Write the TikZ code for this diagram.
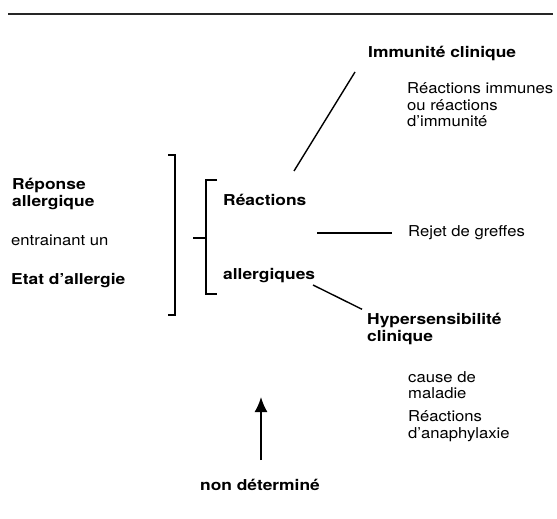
\documentclass[tikz,border=0pt]{standalone}
\usepackage{fontspec}
\setmainfont[FakeStretch=1.11, BoldFeatures={FakeStretch=1.16}]{TeX Gyre Heros}
\usepackage{tikz}
\usetikzlibrary{arrows.meta, positioning}
\tikzset{
  head/.style={font=\fontsize{15}{16.5}\selectfont\bfseries, align=left, inner sep=0pt, anchor=west},
  note/.style={font=\fontsize{15}{16.5}\selectfont, align=left, inner sep=0pt, anchor=west},
  link/.style={line width=1.4pt},
  bracket/.style={line width=1.4pt},
  rule/.style={line width=2pt, black!85},
  uparrow/.style={line width=1.8pt, -{Latex[length=15pt, width=13pt]}}
}

\begin{document}
\begin{tikzpicture}[x=1pt, y=-1pt]
\useasboundingbox (0,0) rectangle (557,519);
\draw[rule] (8,14) -- (553,14);

\node[head] (resp) at (12,194) {Réponse\\allergique};
\node[note] (entr) at (11,240) {entrainant un};
\node[head] (etat) at (11,281) {Etat d'allergie};

\node[head] (reac) at (223,200) {Réactions};
\node[head] (allg) at (223,276) {allergiques};

\node[head] (immclin) at (368,53) {Immunité clinique};
\node[note] (immreac) at (407,105) {Réactions immunes\\ou réactions\\d'immunité};
\node[note] (rejet) at (408,233) {Rejet de greffes};
\node[head] (hyper) at (367,329) {Hypersensibilité\\clinique};
\node[note] (cause) at (408,385) {cause de\\maladie};
\node[note] (anaph) at (408,426) {Réactions\\d'anaphylaxie};
\node[head, anchor=center] (nondet) at (260,485) {non déterminé};

% brackets
\draw[bracket] (168,155) -- (175,155) -- (175,315) -- (168,315);
\draw[bracket] (217,180) -- (206,180) -- (206,294) -- (217,294);
\draw[bracket] (193,238) -- (206,238);

% connectors
\coordinate (imm-a) at (355,72);
\coordinate (imm-b) at (294,171);
\draw[link] (imm-a) -- (imm-b);
\coordinate (rej-a) at (317,233);
\draw[link] (rej-a) -- ([xshift=-16pt]rejet.west);
\coordinate (hyp-a) at (313,285);
\draw[link] (hyp-a) -- ([xshift=-5pt, yshift=4pt]hyper.north west);
\coordinate (tip) at (261,397);
\draw[uparrow] ([xshift=1pt, yshift=19pt]nondet.north) -- (tip);
\end{tikzpicture}
\end{document}
